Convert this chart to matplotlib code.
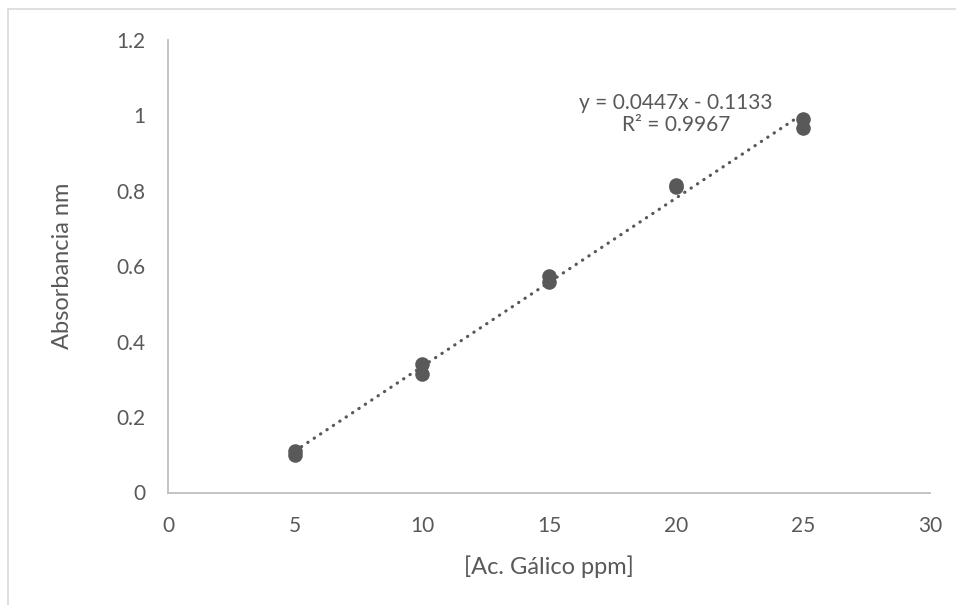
import numpy as np
import matplotlib.pyplot as plt
from matplotlib.patches import Rectangle

# concentration of gallic acid (ppm) and absorbance readings
conc = [5, 5, 10, 10, 15, 15, 20, 20, 25, 25]
absorb = [0.11, 0.10, 0.34, 0.315, 0.573, 0.557, 0.815, 0.81, 0.99, 0.966]

# trendline coefficients as shown on the chart
slope = 0.0447
intercept = -0.1133
eq_line1 = "y = 0.0447x - 0.1133"
eq_line2 = "R² = 0.9967"

xticks = [0, 5, 10, 15, 20, 25, 30]
yticks = [0, 0.2, 0.4, 0.6, 0.8, 1, 1.2]
ytick_labels = ["0", "0.2", "0.4", "0.6", "0.8", "1", "1.2"]

grey = '#595959'
plt.rcParams['font.family'] = ['Lato', 'DejaVu Sans']

fig = plt.figure(figsize=(9.56, 6.05), dpi=100)
ax = fig.add_axes([168 / 956, 1 - 492.5 / 605, 762 / 956, 452.5 / 605])

# border around the chart area (only top and left visible in the crop)
fig.patches.append(Rectangle((8 / 956, -0.05), 1.2, 1 - 9 / 605 + 0.05,
                             transform=fig.transFigure, fill=False,
                             edgecolor='#D9D9D9', linewidth=1.2))

# data points
ax.scatter(conc, absorb, s=110, color=grey, zorder=3, linewidths=0)

# linear trendline between the first and last x, round dots
xs = np.array([min(conc), max(conc)])
ax.plot(xs, slope * xs + intercept, linestyle=(0, (0.1, 2.3)), color=grey,
        linewidth=2.3, dash_capstyle='round', zorder=2)

ax.text(20, 1.033, eq_line1, ha='center', va='center', fontsize=15, color=grey)
ax.text(20, 0.975, eq_line2, ha='center', va='center', fontsize=15, color=grey)

ax.set_xlim(0, 30)
ax.set_ylim(0, 1.2)
ax.set_xticks(xticks)
ax.set_yticks(yticks)
ax.set_yticklabels(ytick_labels)
ax.tick_params(length=0, labelsize=15, colors=grey)
ax.tick_params(axis='x', pad=17)
ax.tick_params(axis='y', pad=16.5)

for side in ['top', 'right']:
    ax.spines[side].set_visible(False)
for side in ['left', 'bottom']:
    ax.spines[side].set_color('#BFBFBF')
    ax.spines[side].set_linewidth(1.3)

ax.set_xlabel('[Ac. Gálico ppm]', fontsize=17, color=grey)
ax.set_ylabel('Absorbancia nm', fontsize=17, color=grey)
ax.xaxis.set_label_coords(0.5, -0.138)
ax.yaxis.set_label_coords(-0.125, 0.5)

fig.savefig('out.png', dpi=100)
